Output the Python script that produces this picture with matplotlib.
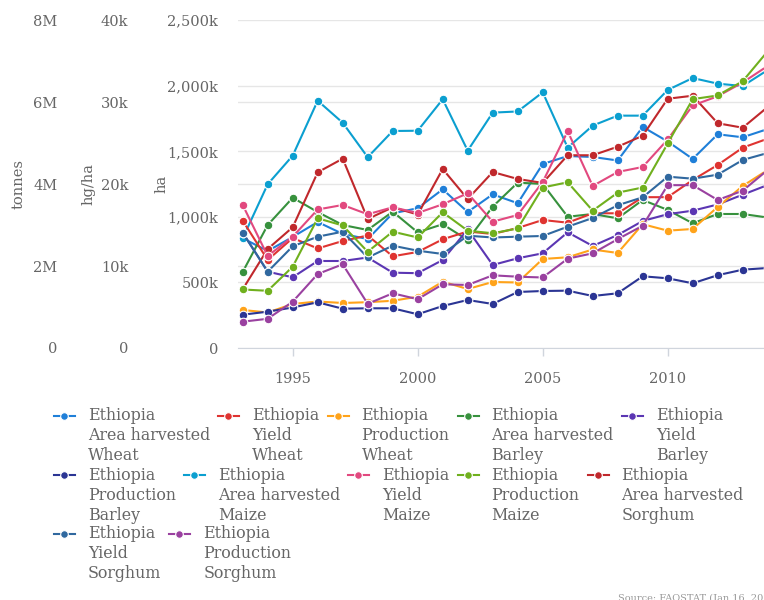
import numpy as np
import matplotlib
matplotlib.use('Agg')
import matplotlib.pyplot as plt
from matplotlib.ticker import FuncFormatter

plt.rcParams['font.family'] = ['DejaVu Serif', 'DejaVu Sans']

# --- data (Ethiopia, FAOSTAT) -------------------------------------------
years = list(range(1993, 2015))

# ha
area_wheat = [837000, 740000, 847000, 961000, 870000, 831000, 1027000, 1066000, 1210000, 1037000, 1172000,
              1104000, 1403000, 1464000, 1457000, 1430000, 1686000, 1575000, 1442000, 1630000, 1607000, 1670000]
area_barley = [580000, 938000, 1146000, 1037000, 938000, 900000, 1040000, 882000, 944000, 824000, 1078000,
               1261000, 1251000, 1001000, 1022000, 989000, 1129000, 1053000, 951000, 1022000, 1022000, 995000]
area_maize = [837000, 1249000, 1467000, 1886000, 1718000, 1455000, 1655000, 1657000, 1897000, 1505000, 1795000,
              1804000, 1950000, 1528000, 1696000, 1772000, 1772000, 1968000, 2059000, 2016000, 1998000, 2120000]
area_sorghum = [448000, 755000, 921000, 1340000, 1444000, 984000, 1073000, 1018000, 1365000, 1136000, 1342000,
                1289000, 1259000, 1470000, 1470000, 1535000, 1619000, 1901000, 1924000, 1714000, 1680000, 1838000]

# hg/ha
yield_wheat = [15536, 10740, 13424, 12143, 13058, 13730, 11191, 11716, 13266, 14218, 13913,
               14645, 15621, 15292, 16439, 16439, 18404, 18404, 20503, 22333, 24445, 25543]
yield_barley = [14071, 9312, 8628, 10617, 10617, 11045, 9190, 9129, 10740, 14462, 10129,
                10947, 11557, 14120, 12448, 13791, 15499, 16329, 16756, 17513, 18709, 19893]
yield_maize = [17452, 11228, 13583, 16903, 17452, 16317, 17171, 16475, 17537, 18880, 15414,
               16231, 20259, 26446, 19770, 21479, 22089, 25445, 29595, 30717, 32402, 34415]
yield_sorghum = [14071, 9312, 12411, 13583, 14193, 11045, 12485, 11875, 11472, 13705, 13485,
                 13583, 13668, 14803, 15865, 17415, 18392, 20906, 20661, 21149, 22944, 23798]

# tonnes
prod_wheat = [927500, 866500, 1074000, 1135000, 1098000, 1118000, 1152000, 1252000, 1618000, 1440000, 1611000,
              1599000, 2172000, 2214000, 2404000, 2319000, 3022000, 2863000, 2905000, 3442000, 3954000, 4345000]
prod_barley = [813000, 886000, 989000, 1115000, 959000, 969000, 969000, 823000, 1025000, 1172000, 1074000,
               1367000, 1391000, 1399000, 1269000, 1335000, 1750000, 1701000, 1579000, 1777000, 1911000, 1953000]
prod_maize = [1428000, 1396000, 1984000, 3166000, 2990000, 2350000, 2839000, 2697000, 3312000, 2863000, 2800000,
              2917000, 3917000, 4044000, 3351000, 3791000, 3917000, 4991000, 6073000, 6163000, 6512000, 7242000]
prod_sorghum = [642000, 713000, 1130000, 1806000, 2043000, 1079000, 1335000, 1191000, 1555000, 1538000, 1774000,
                1740000, 1721000, 2180000, 2311000, 2656000, 2985000, 3974000, 3974000, 3612000, 3839000, 4345000]

ha_ticks = [0, 500000, 1000000, 1500000, 2000000, 2500000]
hg_ticks = [0, 10000, 20000, 30000, 40000]
t_ticks = [0, 2000000, 4000000, 6000000, 8000000]
year_ticks = [1995, 2000, 2005, 2010]

# legend order: (element, item, values, axis key, colour)
series = [
    ('Area harvested', 'Wheat', area_wheat, 'ha', '#1f7fd8'),
    ('Yield', 'Wheat', yield_wheat, 'hg', '#df3431'),
    ('Production', 'Wheat', prod_wheat, 't', '#ffa31a'),
    ('Area harvested', 'Barley', area_barley, 'ha', '#37913d'),
    ('Yield', 'Barley', yield_barley, 'hg', '#5b36b3'),
    ('Production', 'Barley', prod_barley, 't', '#2b3594'),
    ('Area harvested', 'Maize', area_maize, 'ha', '#0b9fd0'),
    ('Yield', 'Maize', yield_maize, 'hg', '#e2497f'),
    ('Production', 'Maize', prod_maize, 't', '#70b01e'),
    ('Area harvested', 'Sorghum', area_sorghum, 'ha', '#c0282c'),
    ('Yield', 'Sorghum', yield_sorghum, 'hg', '#30689f'),
    ('Production', 'Sorghum', prod_sorghum, 't', '#9a41a0'),
]

# --- layout ---------------------------------------------------------------
W, H = 764, 600
PT = 72 / 100  # points per pixel
TXT = '#666666'
GRID = '#e6e6e6'
FS = 10.5

fig = plt.figure(figsize=(W / 100, H / 100), dpi=100)
left, right, top, bottom = 238.3, 764, 20.2, 348
ax = fig.add_axes([left / W, 1 - bottom / H, (right - left) / W, (bottom - top) / H])
ax_hg = ax.twinx()
ax_t = ax.twinx()
axes = {'ha': ax, 'hg': ax_hg, 't': ax_t}

for a in axes.values():
    for sp in a.spines.values():
        sp.set_visible(False)
    a.yaxis.tick_left()
    a.yaxis.set_label_position('left')
    a.tick_params(axis='y', length=0, pad=20 * PT, labelsize=FS, labelcolor=TXT)

ax.set_ylim(0, ha_ticks[-1])
ax.set_yticks(ha_ticks)
ax.yaxis.set_major_formatter(FuncFormatter(lambda v, _: '0' if v == 0 else f'{v / 1000:,.0f}k'))
# tonnes gridlines drawn on the bottom axes, mapped through the scale ratio
ax.set_yticks(np.array(t_ticks) * ha_ticks[-1] / t_ticks[-1], minor=True)
ax.tick_params(axis='y', which='minor', length=0, labelleft=False)
ax.grid(axis='y', which='both', color=GRID, lw=1)
ax.set_axisbelow(True)

ax_hg.set_ylim(0, hg_ticks[-1])
ax_hg.set_yticks(hg_ticks)
ax_hg.yaxis.set_major_formatter(FuncFormatter(lambda v, _: '0' if v == 0 else f'{v / 1000:.0f}k'))
ax_hg.spines['left'].set_position(('outward', 90 * PT))

ax_t.set_ylim(0, t_ticks[-1])
ax_t.set_yticks(t_ticks)
ax_t.yaxis.set_major_formatter(FuncFormatter(lambda v, _: '0' if v == 0 else f'{v / 1e6:.0f}M'))
ax_t.spines['left'].set_position(('outward', 161 * PT))

ax.set_ylabel('ha', fontsize=FS, color=TXT)
ax_hg.set_ylabel('hg/ha', fontsize=FS, color=TXT)
ax_t.set_ylabel('tonnes', fontsize=FS, color=TXT)
w_ax = right - left
ax.yaxis.set_label_coords((169 - left) / w_ax, 0.5)
ax_hg.yaxis.set_label_coords((96 - left) / w_ax, 0.5)
ax_t.yaxis.set_label_coords((26 - left) / w_ax, 0.5)

x_lo = years[0] - (242.7 - left) / 25
ax.set_xlim(x_lo, x_lo + w_ax / 25)
ax.set_xticks(year_ticks)
ax.spines['bottom'].set_visible(True)
ax.spines['bottom'].set_color('#d0d5dd')
ax.tick_params(axis='x', length=8 * PT, width=1, color='#d0d5dd', pad=16 * PT,
               labelsize=FS, labelcolor=TXT)

for element, item, values, key, color in series:
    axes[key].plot(years, values, color=color, lw=1.5, marker='o', ms=6.2,
                   mfc=color, mec='white', mew=0.8, clip_on=True)

# --- legend (flowing rows) -----------------------------------------------
lax = fig.add_axes([0, 0, 1, 1])
lax.set_xlim(0, W)
lax.set_ylim(H, 0)
lax.axis('off')
renderer = fig.canvas.get_renderer()

LFS = 11.4
x0, y0, row_h, line_h = 54, 416, 59, 20
x, y = x0, y0
for element, item, values, key, color in series:
    texts = [lax.text(0, 0, s, fontsize=LFS, color=TXT, va='center', ha='left')
             for s in ('Ethiopia', element, item)]
    tw = max(t.get_window_extent(renderer).width for t in texts)
    item_w = 34 + tw + 8
    if x + item_w > W and x > x0:
        x, y = x0, y + row_h
    for i, t in enumerate(texts):
        t.set_position((x + 34, y + i * line_h))
    lax.plot([x, x + 21], [y, y], color=color, lw=1.5)
    lax.plot(x + 10, y, 'o', color=color, ms=5.5, mec='white', mew=0.8)
    x += item_w

lax.text(618, 598, 'Source: FAOSTAT (Jan 16, 2019)', fontsize=7, color='#999999',
         va='center', ha='left')

fig.savefig('out.png', dpi=100)
